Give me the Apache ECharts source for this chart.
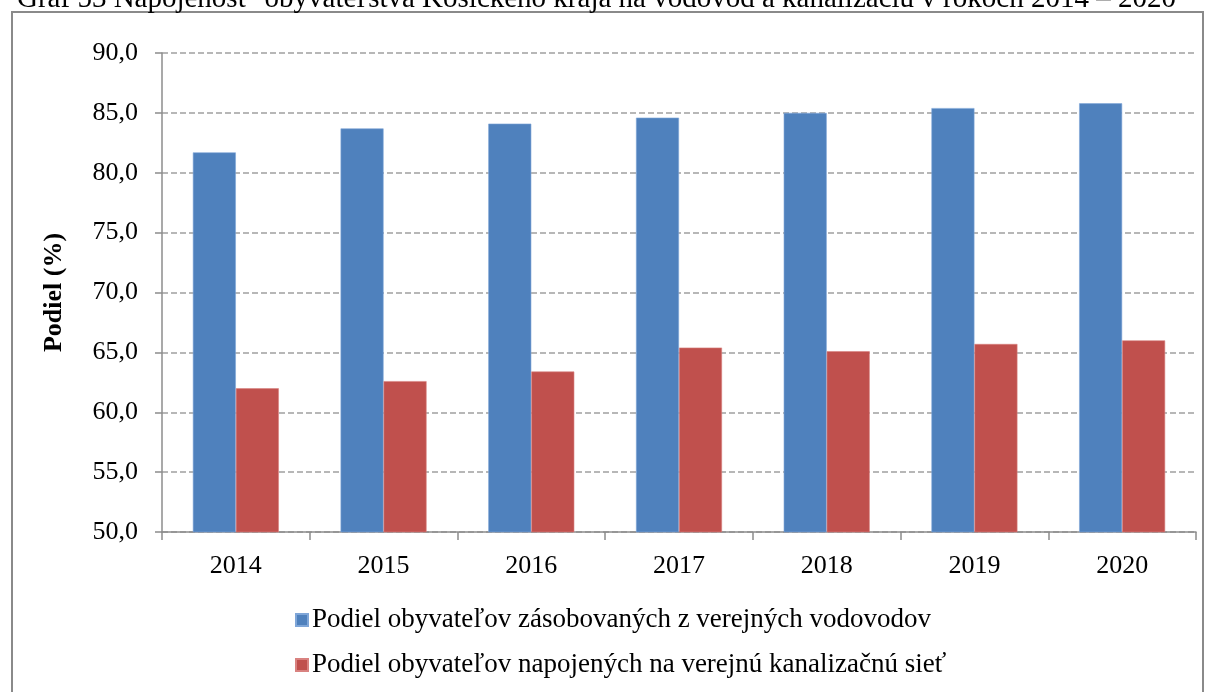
<!DOCTYPE html>
<html>
<head>
<meta charset="utf-8">
<script src="https://cdn.jsdelivr.net/npm/echarts@6/dist/echarts.min.js"></script>
<style>
  html, body { margin: 0; padding: 0; background: #fff; }
  #chart { width: 1209px; height: 692px; }
</style>
</head>
<body>
<div id="chart"></div>
<script>
// Years on the category axis
const years = ['2014', '2015', '2016', '2017', '2018', '2019', '2020'];

// Share of inhabitants supplied from public water mains (%)
const vodovod = [81.7, 83.7, 84.1, 84.6, 85.0, 85.4, 85.8];

// Share of inhabitants connected to the public sewer network (%)
const kanalizacia = [62.0, 62.6, 63.4, 65.4, 65.1, 65.7, 66.0];

// Series names shown in the legend
const seriesNames = [
  'Podiel obyvateľov zásobovaných z verejných vodovodov',
  'Podiel obyvateľov napojených na verejnú kanalizačnú sieť'
];

const titleText = 'Graf 53 Napojenosť  obyvateľstva Košického kraja na vodovod a kanalizáciu v rokoch 2014 – 2020';

const serif = '"Liberation Serif", "Times New Roman", serif';
const axisGrey = '#8c8c8c';

const chart = echarts.init(document.getElementById('chart'));

chart.setOption({
  animation: false,
  textStyle: { fontFamily: serif, color: '#000' },
  graphic: [
    {
      type: 'text',
      left: 17,
      top: -15,
      style: {
        text: titleText,
        font: '29px ' + serif,
        fill: '#000'
      }
    },
    {
      type: 'rect',
      shape: { x: 12, y: 12, width: 1191, height: 700 },
      style: { fill: 'none', stroke: '#8a8a8a', lineWidth: 2 },
      z: -1
    }
  ],
  legend: {
    orient: 'vertical',
    left: 290,
    top: 600,
    itemWidth: 12,
    itemHeight: 12,
    itemGap: 15,
    icon: 'rect',
    textStyle: { fontFamily: serif, fontSize: 27, color: '#000', lineHeight: 30, padding: [0, 0, 0, -1] },
    data: seriesNames
  },
  grid: {
    left: 162,
    right: 13,
    top: 53,
    bottom: 160,
    containLabel: false
  },
  xAxis: {
    type: 'category',
    data: years,
    axisLine: { lineStyle: { color: axisGrey, width: 1.5 } },
    axisTick: { show: true, length: 8, lineStyle: { color: axisGrey, width: 1.5 } },
    axisLabel: { fontFamily: serif, fontSize: 26, color: '#000', margin: 21 },
    splitLine: { show: false }
  },
  yAxis: {
    type: 'value',
    min: 50,
    max: 90,
    interval: 5,
    name: 'Podiel (%)',
    nameLocation: 'middle',
    nameGap: 95,
    nameRotate: 90,
    nameTextStyle: { fontFamily: serif, fontSize: 26, fontWeight: 'bold', color: '#000' },
    axisLine: { show: true, lineStyle: { color: axisGrey, width: 1.5 } },
    axisTick: { show: true, length: 7, lineStyle: { color: axisGrey, width: 1.5 } },
    axisLabel: {
      fontFamily: serif,
      fontSize: 26,
      color: '#000',
      margin: 24,
      formatter: v => v.toFixed(1).replace('.', ',')
    },
    splitLine: {
      show: true,
      lineStyle: { color: '#a0a0a0', width: 1.5, type: [6, 3] }
    }
  },
  series: [
    {
      name: seriesNames[0],
      type: 'bar',
      data: vodovod,
      barWidth: 43,
      barGap: '0%',
      itemStyle: { color: '#4F81BD', borderColor: '#7fa6d8', borderWidth: 0.6 }
    },
    {
      name: seriesNames[1],
      type: 'bar',
      data: kanalizacia,
      barWidth: 43,
      barGap: '0%',
      itemStyle: { color: '#C0504D', borderColor: '#d98280', borderWidth: 0.6 }
    }
  ]
});
</script>
</body>
</html>
